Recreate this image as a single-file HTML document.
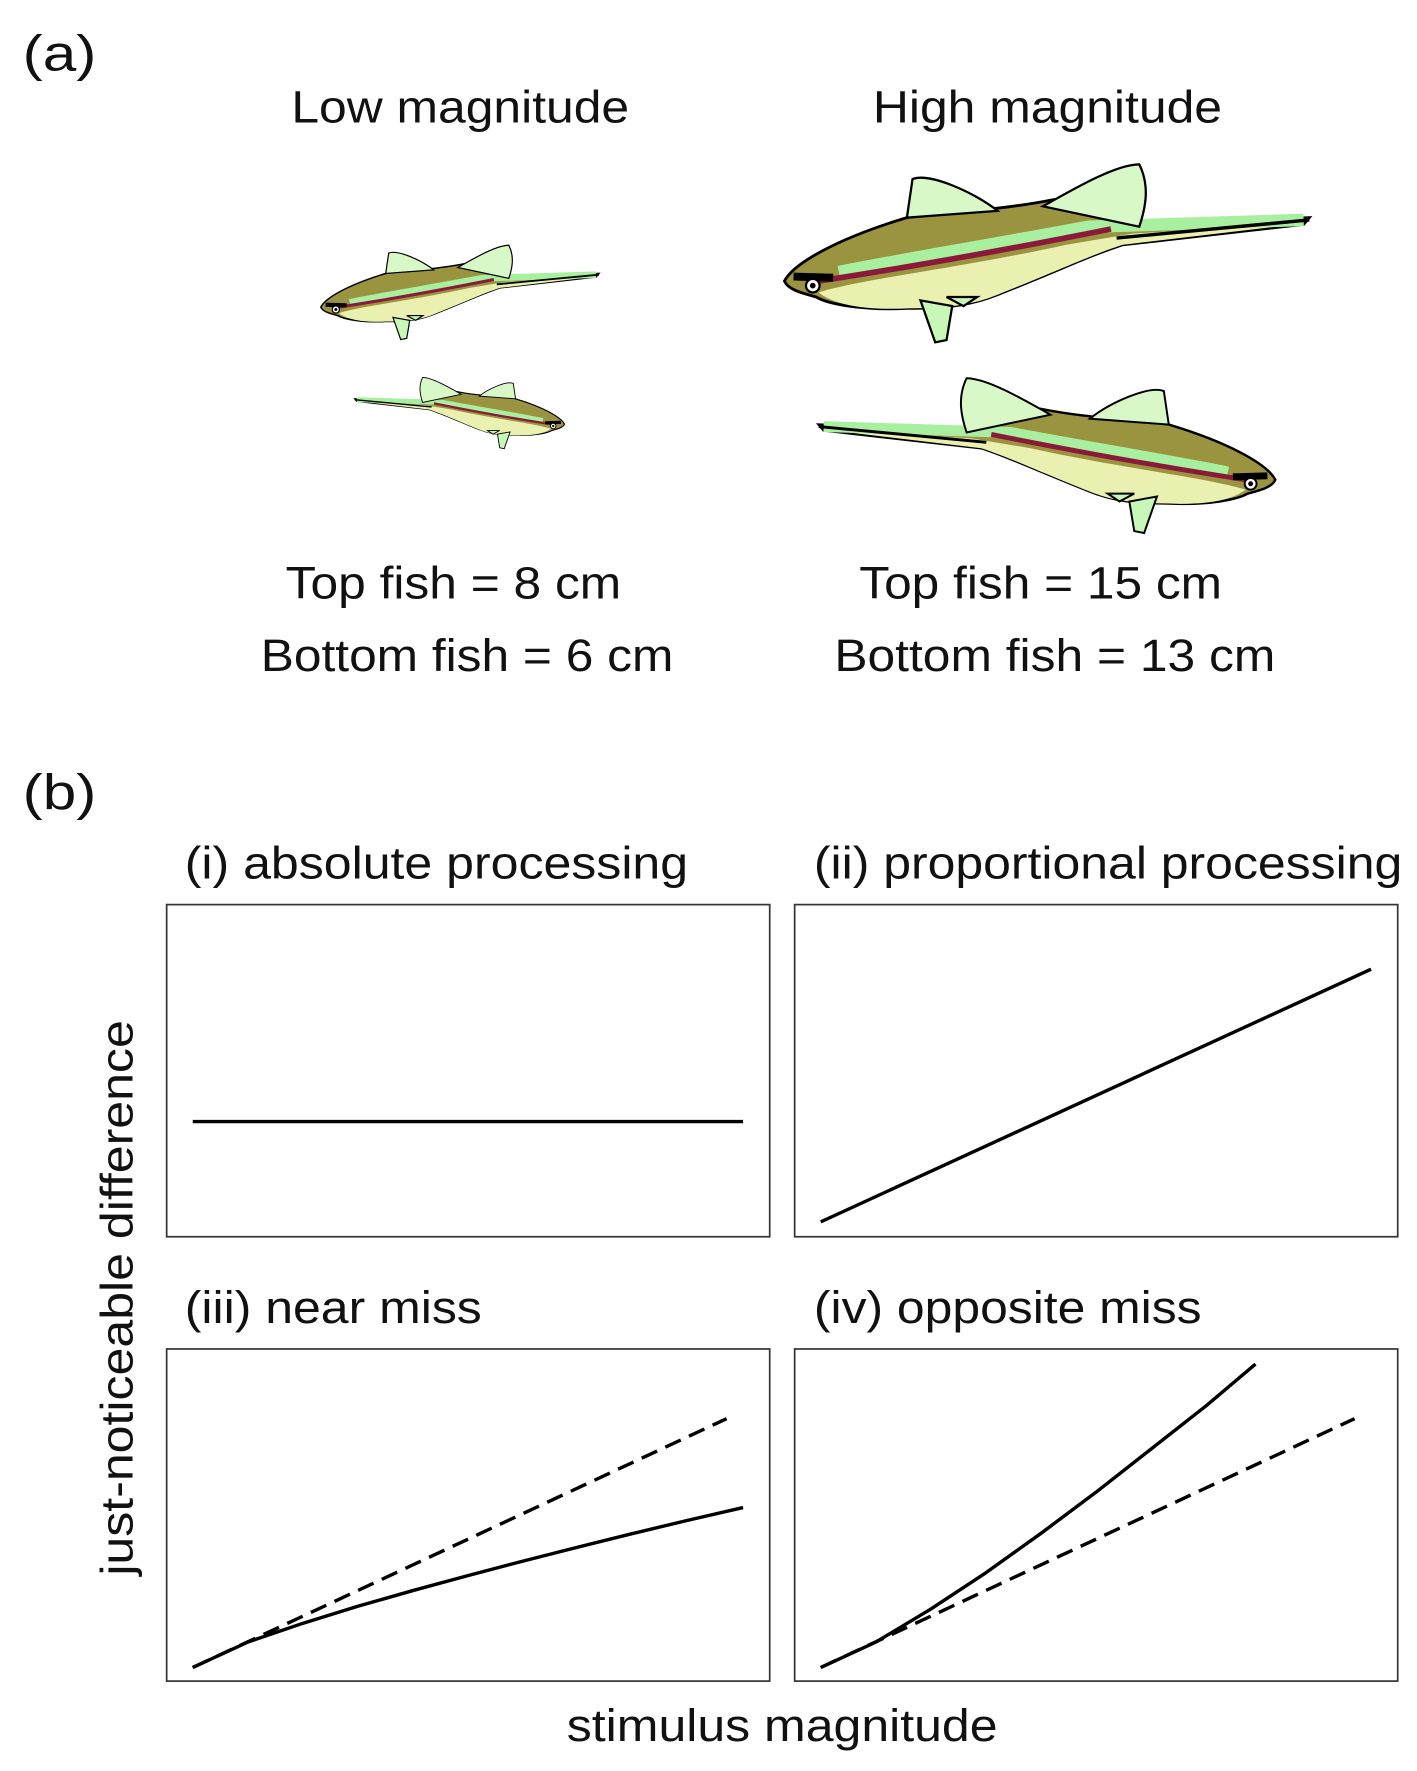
<!DOCTYPE html>
<html><head><meta charset="utf-8"><style>
html,body{margin:0;padding:0;background:#fff;}
svg{display:block;}
text{font-family:"Liberation Sans",Arial,sans-serif;fill:#111;}
</style></head><body>
<svg id="fig" width="1417" height="1771" viewBox="0 0 1250 1562.3" xmlns="http://www.w3.org/2000/svg">
<defs>
<g id="fish">
  <path d="M692,248 C700,232 740,210 800,192 C840,186 880,186 930,176 C960,186 975,194 990,198 L1155,192 L1150,198 L990,216 C960,226 940,236 880,260 C860,268 840,272 800,272 C760,274 730,268 720,262 C705,258 695,255 692,248 Z" fill="#9a9440" stroke="#000" stroke-width="2.5"/>
  <path d="M722,258 C760,246 850,236 940,216 L1000,206 L1150,197 L990,216 C960,226 940,236 880,260 C860,268 840,272 800,272 C760,274 735,268 722,258 Z" fill="#eaf0b0"/>
  <path d="M740,240 C800,228 880,215 960,200 L1150,194" fill="none" stroke="#a8f0a0" stroke-width="11"/>
  <path d="M722,248 C800,236 880,222 980,202" fill="none" stroke="#8b1a3a" stroke-width="5"/>
  <path d="M985,210 L1155,194" fill="none" stroke="#000" stroke-width="3"/>
  <path d="M700,244 L735,245" stroke="#000" stroke-width="7"/>
  <path d="M800,192 L805,158 C820,152 860,170 880,186 Z" fill="#d8f8c8" stroke="#000" stroke-width="2"/>
  <path d="M920,182 C950,165 985,145 1005,145 C1015,165 1010,185 1005,200 Z" fill="#d8f8c8" stroke="#000" stroke-width="2"/>
  <path d="M812,265 L825,302 L835,300 L840,270 Z" fill="#c8f8b8" stroke="#000" stroke-width="2"/>
  <path d="M835,262 L862,262 L850,270 Z" fill="#c8f8b8" stroke="#000" stroke-width="2"/>
  <circle cx="717" cy="252" r="6" fill="#fff" stroke="#000" stroke-width="2"/>
  <circle cx="717" cy="252" r="2.5" fill="#000"/>
</g>
</defs>
<text x="20" y="62" font-size="44" textLength="65" lengthAdjust="spacingAndGlyphs">(a)</text>
<text x="257" y="108" font-size="40" textLength="298" lengthAdjust="spacingAndGlyphs">Low magnitude</text>
<text x="770" y="108" font-size="40" textLength="308" lengthAdjust="spacingAndGlyphs">High magnitude</text>
<use href="#fish" transform="translate(283,272) scale(0.53) translate(-692,-250)"/>
<use href="#fish" transform="translate(498,375) scale(-0.40,0.40) translate(-692,-250)"/>
<use href="#fish" transform="translate(0,0)"/>
<use href="#fish" transform="translate(1125,425) scale(-0.87,0.87) translate(-692,-250)"/>
<text x="252" y="528" font-size="40" textLength="296" lengthAdjust="spacingAndGlyphs">Top fish = 8 cm</text>
<text x="230" y="592" font-size="40" textLength="364" lengthAdjust="spacingAndGlyphs">Bottom fish = 6 cm</text>
<text x="758" y="528" font-size="40" textLength="320" lengthAdjust="spacingAndGlyphs">Top fish = 15 cm</text>
<text x="736" y="592" font-size="40" textLength="389" lengthAdjust="spacingAndGlyphs">Bottom fish = 13 cm</text>
<text x="20" y="714" font-size="44" textLength="65" lengthAdjust="spacingAndGlyphs">(b)</text>
<text x="163" y="775" font-size="40" textLength="444" lengthAdjust="spacingAndGlyphs">(i) absolute processing</text>
<text x="718" y="775" font-size="40" textLength="519" lengthAdjust="spacingAndGlyphs">(ii) proportional processing</text>
<text x="163" y="1167" font-size="40" textLength="262" lengthAdjust="spacingAndGlyphs">(iii) near miss</text>
<text x="718" y="1167" font-size="40" textLength="342" lengthAdjust="spacingAndGlyphs">(iv) opposite miss</text>
<text transform="translate(117,1390) rotate(-90)" font-size="40" textLength="490" lengthAdjust="spacingAndGlyphs">just-noticeable difference</text>
<text x="500" y="1536" font-size="40" textLength="380" lengthAdjust="spacingAndGlyphs">stimulus magnitude</text>
<g id="plots"></g>
</svg>
<script>
const panelNames = ['absolute','proportional','near-miss','opposite-miss'];
const absX = [0, 10];
const absY = [4, 4];
const propX = [0, 10];
const propY = [0.05, 10];
const nearSolidX = [0,1,2,3,4,5,6,7,8,9,10];
const nearSolidY = [0,1.0,1.74,2.41,3.03,3.62,4.19,4.74,5.28,5.8,6.3];
const nearDashX = [0, 9.7];
const nearDashY = [0, 9.8];
const oppSolidX = [0,1,2,3,4,5,6,7,7.9];
const oppSolidY = [0,1.0,2.3,3.73,5.28,6.9,8.6,10.3,11.95];
const oppDashX = [0, 9.7];
const oppDashY = [0, 9.8];

const NS='http://www.w3.org/2000/svg';
const plots=document.getElementById('plots');
const boxes=[{x:147,y:798},{x:701,y:798},{x:147,y:1190},{x:701,y:1190}];
const W=532,H=293;
function sx(b,v){return b.x+23+v*48.55;}
function sy(b,v){return b.y+281-v*22.4;}
function line(b,xs,ys,dashed,name){
  const p=document.createElementNS(NS,'polyline');
  p.setAttribute('points',xs.map((x,i)=>sx(b,x)+','+sy(b,ys[i])).join(' '));
  p.setAttribute('fill','none');p.setAttribute('stroke','#000');p.setAttribute('stroke-width','3');
  p.setAttribute('stroke-linejoin','round');
  if(dashed)p.setAttribute('stroke-dasharray','15 8');
  
  
  plots.appendChild(p);
}
boxes.forEach((b,i)=>{
  const r=document.createElementNS(NS,'rect');
  r.setAttribute('x',b.x);r.setAttribute('y',b.y);r.setAttribute('width',W);r.setAttribute('height',H);
  r.setAttribute('fill','none');r.setAttribute('stroke','#333');r.setAttribute('stroke-width','1.5');
  
  
  plots.appendChild(r);
});
line(boxes[0],absX,absY,false,'absolute-line');
line(boxes[1],propX,propY,false,'proportional-line');
line(boxes[2],nearDashX,nearDashY,true,'near-miss-proportional-dashed');
line(boxes[2],nearSolidX,nearSolidY,false,'near-miss-line');
line(boxes[3],oppDashX,oppDashY,true,'opposite-miss-proportional-dashed');
line(boxes[3],oppSolidX,oppSolidY,false,'opposite-miss-line');
</script>
</body></html>
